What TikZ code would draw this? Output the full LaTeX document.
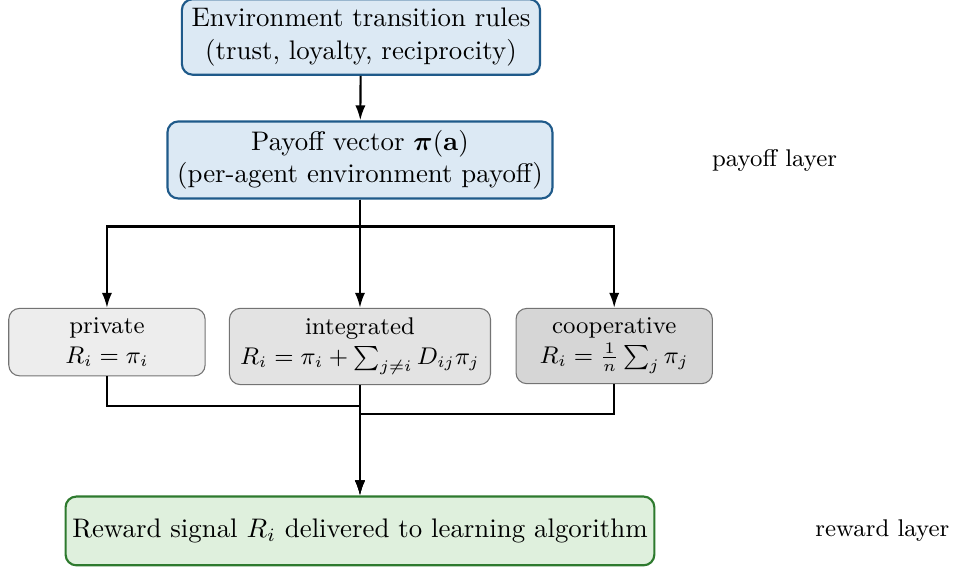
\documentclass[tikz,border=0pt]{standalone}
\usepackage{tikz}
\usetikzlibrary{arrows.meta, calc}
\usepackage{amsmath}
\usepackage{xcolor}

\definecolor{envfill}{HTML}{DCE9F4}
\definecolor{envline}{HTML}{1F5A8A}
\definecolor{rewfill}{HTML}{DFF0DD}
\definecolor{rewline}{HTML}{2E7A2E}

\tikzset{
	envbox/.style={draw=envline, fill=envfill, thick, rounded corners=4pt, align=center, inner xsep=3.6pt, minimum height=0.97cm},
	modebox/.style={draw=black!55, fill=#1, rounded corners=4pt, align=center, font=\small, minimum width=2.57cm, inner xsep=4pt, inner ysep=3.6pt},
	rewbox/.style={draw=rewline, fill=rewfill, thick, rounded corners=4pt, align=center, inner xsep=2.5pt, minimum height=0.9cm},
	layer/.style={font=\small},
	link/.style={thick, -{Latex[length=5.6pt, width=3.8pt]}}
}

\begin{document}
\begin{tikzpicture}
	\useasboundingbox (0,0) rectangle (12.475,-7.42);
	\node [envbox] (rules) at (4.725,-0.484) {Environment transition rules\\(trust, loyalty, reciprocity)};
	\node [envbox] (payoff) at (4.712,-2.094) {Payoff vector $\boldsymbol{\pi}(\mathbf{a})$\\(per-agent environment payoff)};
	\node [layer] (payofflayer) at (10.14,-2.094) {payoff layer};
	\node [modebox=black!7, anchor=north] (private) at (1.40,-4.03) {private\\$R_i = \pi_i$};
	\node [modebox=black!11, anchor=north] (integrated) at (4.712,-4.03) {integrated\\$R_i = \pi_i + \sum_{j\neq i} D_{ij}\pi_j$};
	\node [modebox=black!16, anchor=north] (cooperative) at (8.04,-4.03) {cooperative\\$R_i = \frac{1}{n}\sum_j \pi_j$};
	\node [rewbox] (reward) at (4.712,-6.95) {Reward signal $R_i$ delivered to learning algorithm};
	\node [layer] (rewardlayer) at (11.55,-6.95) {reward layer};
	% environment down to the three reward modes
	\draw [link] (rules) -- (payoff);
	\draw [link] (payoff.south) -- (integrated.north);
	\draw [link] (payoff.south) -- ++(0,-0.353) -| (private.north);
	\draw [link] (payoff.south) -- ++(0,-0.353) -| (cooperative.north);
	% modes merge into the reward signal
	\draw [link] (private.south) -- ++(0,-0.39) -| (reward.north);
	\draw [link] (integrated.south) -- (reward.north);
	\draw [link] (cooperative.south) -- ++(0,-0.39) -| (reward.north);
\end{tikzpicture}
\end{document}
